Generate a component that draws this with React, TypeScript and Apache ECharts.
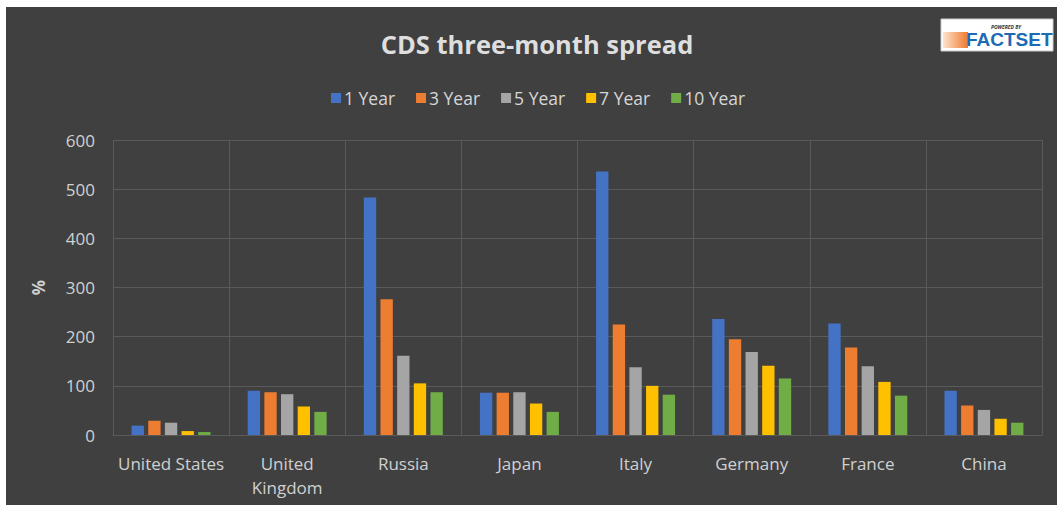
import React, { useEffect, useRef } from "react";
import * as echarts from "echarts";

const categories = ["United States", "United\nKingdom", "Russia", "Japan", "Italy", "Germany", "France", "China"];
const seriesNames = ["1 Year", "3 Year", "5 Year", "7 Year", "10 Year"];
const oneYear = [19, 90, 483, 86, 536, 236, 227, 90];
const threeYear = [29, 87, 276, 86, 225, 195, 178, 60];
const fiveYear = [25, 83, 161, 87, 138, 169, 140, 51];
const sevenYear = [8, 58, 105, 64, 100, 141, 108, 33];
const tenYear = [6, 47, 87, 47, 82, 115, 80, 25];
const seriesValues = [oneYear, threeYear, fiveYear, sevenYear, tenYear];
const colors = ["#4472C4", "#ED7D31", "#A5A5A5", "#FFC000", "#70AD47"];

const FONT = "'Open Sans', 'DejaVu Sans', sans-serif";

export default function App() {
  const ref = useRef<HTMLDivElement>(null);
  useEffect(() => {
    if (!ref.current) return;
    const chart = echarts.init(ref.current, undefined, { renderer: "svg" });
    chart.setOption({
      animation: false,
      backgroundColor: "#ffffff",
      textStyle: { fontFamily: FONT },
      title: {
        text: "CDS three-month spread",
        left: 532,
        textAlign: "center",
        top: 26,
        textStyle: { color: "#dedede", fontSize: 25.5, fontWeight: "bold", fontFamily: FONT },
      },
      legend: {
        data: seriesNames,
        top: 84,
        left: 326,
        itemWidth: 10,
        itemHeight: 10,
        itemGap: 21,
        icon: "rect",
        textStyle: { color: "#d6d6d6", fontSize: 17.5, fontFamily: FONT, padding: [0, 0, 0, -2] },
      },
      grid: { left: 113, right: 15, top: 140, bottom: 71, containLabel: false },
      xAxis: {
        type: "category",
        data: categories,
        axisLine: { show: true, lineStyle: { color: "#5a5a5a", width: 1 } },
        axisTick: { show: false },
        splitLine: { show: true, lineStyle: { color: "#5a5a5a", width: 1 } },
        axisLabel: { color: "#d0d0d0", fontSize: 17, margin: 16, lineHeight: 24, fontFamily: FONT, interval: 0 },
      },
      yAxis: {
        type: "value",
        min: 0,
        max: 600,
        interval: 100,
        name: "%",
        nameLocation: "middle",
        nameGap: 66,
        nameRotate: 90,
        nameTextStyle: { color: "#d0d0d0", fontSize: 17, fontWeight: "bold", fontFamily: FONT },
        axisLine: { show: false },
        axisTick: { show: false },
        splitLine: { show: true, lineStyle: { color: "#5a5a5a", width: 1 } },
        axisLabel: { color: "#d0d0d0", fontSize: 17, margin: 18, fontFamily: FONT },
      },
      series: seriesNames.map((name, i) => ({
        name,
        type: "bar",
        data: seriesValues[i],
        itemStyle: { color: colors[i] },
        barGap: "35%",
        barCategoryGap: "32%",
      })),
      graphic: [
        {
          type: "rect",
          z: -10,
          silent: true,
          shape: { x: 6, y: 7, width: 1051, height: 498 },
          style: { fill: "#404040" },
        },
        {
          type: "group",
          z: 10,
          children: [
            { type: "rect", shape: { x: 941, y: 19, width: 112, height: 32 }, style: { fill: "#ffffff", stroke: "#cccccc", lineWidth: 1 } },
            {
              type: "rect",
              shape: { x: 943, y: 32, width: 25, height: 16 },
              style: {
                fill: new echarts.graphic.LinearGradient(0, 0, 1, 0, [
                  { offset: 0, color: "#fde3cf" },
                  { offset: 1, color: "#f07a2a" },
                ]),
              },
            },
            { type: "text", x: 1006, y: 24, style: { text: "POWERED BY", fill: "#333333", fontSize: 5, fontWeight: "bold", fontStyle: "italic", textAlign: "center", fontFamily: FONT } },
            { type: "text", x: 966, y: 30, style: { text: "FACTSET", fill: "#1d6bb5", fontSize: 19, fontWeight: "bold", textAlign: "left", fontFamily: "'Liberation Sans Narrow', 'Liberation Sans', sans-serif" } },
          ],
        },
      ],
    });
    return () => chart.dispose();
  }, []);
  return (
    <div style={{ position: "absolute", left: 0, top: 0, width: 1057, height: 506 }}>
      <div ref={ref} style={{ width: 1057, height: 506 }} />
    </div>
  );
}
